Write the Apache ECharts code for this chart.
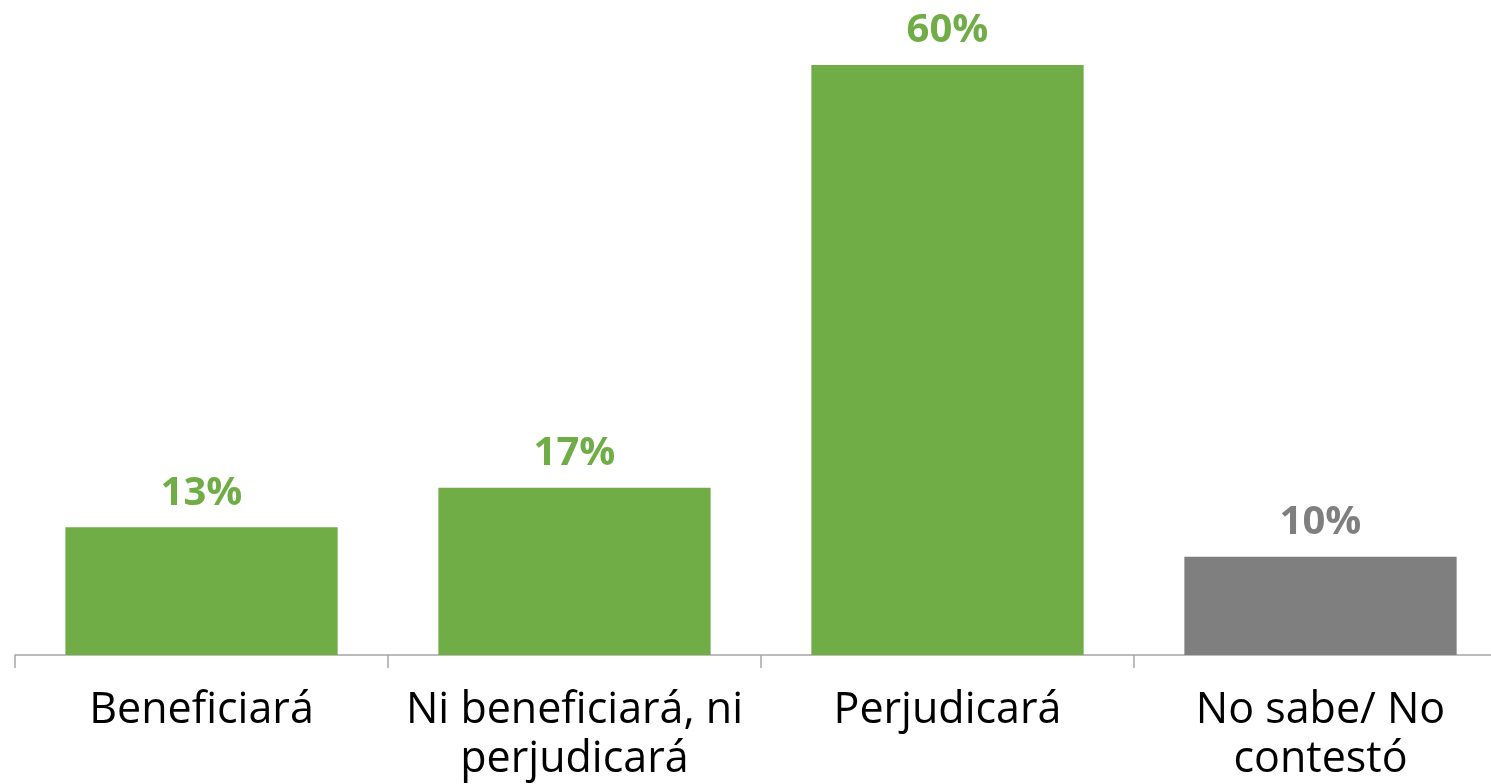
<!DOCTYPE html>
<html>
<head>
<meta charset="utf-8">
<style>
  html, body { margin: 0; padding: 0; background: #fff; overflow: hidden; }
  #chart { width: 1507px; height: 784px; }
</style>
<script src="https://cdn.jsdelivr.net/npm/echarts@6/dist/echarts.min.js"></script>
</head>
<body>
<div id="chart"></div>
<script>
var categories = ['Beneficiará', 'Ni beneficiará, ni\nperjudicará', 'Perjudicará', 'No sabe/ No\ncontestó'];
var values = [13, 17, 60, 10];
var barColors = ['#70ad47', '#70ad47', '#70ad47', '#7f7f7f'];

var fontName = '"Open Sans", "Noto Sans", sans-serif';

// the plot runs a little past the right edge of the window, as in the original
var chart = echarts.init(document.getElementById('chart'));
chart.setOption({
    animation: false,
    grid: { left: 15, right: 0, top: 65, bottom: 129 },
    xAxis: {
        type: 'category',
        data: categories,
        axisLine: { lineStyle: { color: '#a6a6a6', width: 1.5 } },
        axisTick: { show: true, interval: 0, length: 13, lineStyle: { color: '#a6a6a6', width: 1.5 } },
        axisLabel: {
            interval: 0,
            hideOverlap: false,
            color: '#000',
            fontFamily: fontName,
            fontSize: 43,
            lineHeight: 49,
            margin: 31
        }
    },
    yAxis: {
        type: 'value',
        min: 0,
        max: 60,
        show: false,
        splitLine: { show: false }
    },
    series: [{
        type: 'bar',
        barWidth: '73%',
        data: values.map(function (v, i) {
            return {
                value: v,
                itemStyle: { color: barColors[i] },
                label: { color: barColors[i] }
            };
        }),
        label: {
            show: true,
            position: 'top',
            distance: 14,
            formatter: '{c}%',
            fontFamily: fontName,
            fontWeight: 'bold',
            fontSize: 40
        }
    }]
});
</script>
</body>
</html>
